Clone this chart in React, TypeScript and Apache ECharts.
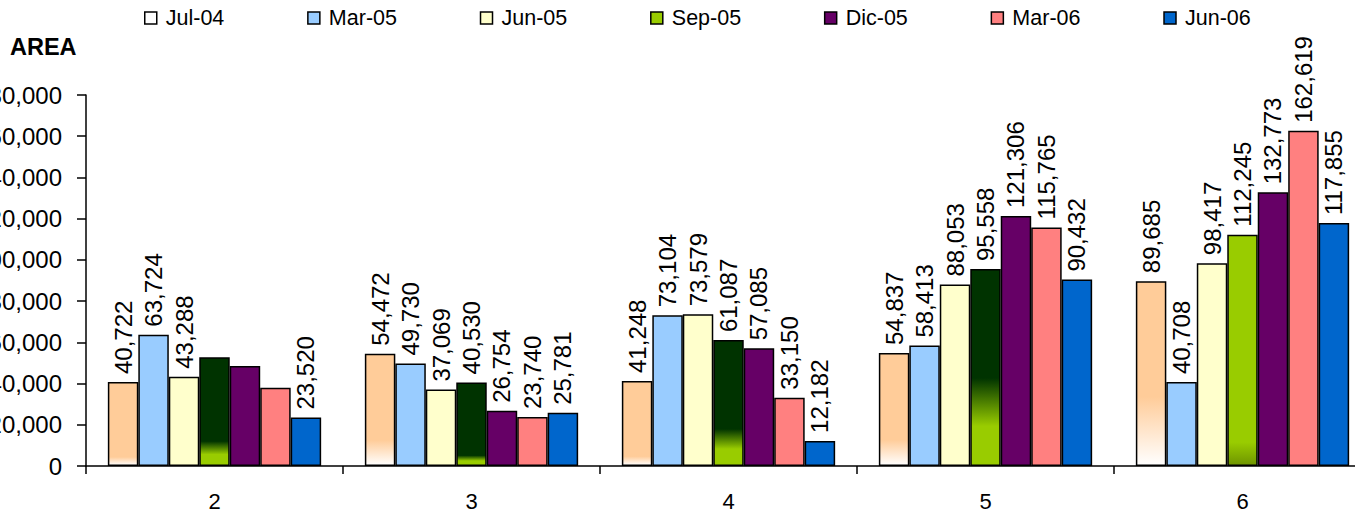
import React, { useEffect, useRef } from "react";
import * as echarts from "echarts";

const categories = ["2", "3", "4", "5", "6"];
const seriesNames = ["Jul-04", "Mar-05", "Jun-05", "Sep-05", "Dic-05", "Mar-06", "Jun-06"];
const jul04 = [40722, 54472, 41248, 54837, 89685];
const mar05 = [63724, 49730, 73104, 58413, 40708];
const jun05 = [43288, 37069, 73579, 88053, 98417];
const sep05 = [52800, 40530, 61087, 95558, 112245];
const dic05 = [48500, 26754, 57085, 121306, 132773];
const mar06 = [38000, 23740, 33150, 115765, 162619];
const jun06 = [23520, 25781, 12182, 90432, 117855];
// labels not shown in the original: [seriesIndex, categoryIndex]
const hiddenLabels: [number, number][] = [[3, 0], [4, 0], [5, 0]];

const seriesValues = [jul04, mar05, jun05, sep05, dic05, mar06, jun06];

const Y_MAX = 180000;
const Y_INTERVAL = 20000;
const GRID_TOP = 95;
const GRID_BOTTOM = 50;
const CHART_H = 516;
const PLOT_H = CHART_H - GRID_TOP - GRID_BOTTOM;

const FONT = "'Liberation Sans', Arial, sans-serif";

const baseColors = ["#FFCC99", "#99CCFF", "#FFFFCC", "#99CC00", "#660066", "#FF8080", "#0066CC"];
const legendColors = ["#FFFFFF", "#99CCFF", "#FFFFCC", "#99CC00", "#660066", "#FF8080", "#0066CC"];

function barHeight(v: number) {
  return (v / Y_MAX) * PLOT_H;
}

function peachGradient(v: number) {
  const h = barHeight(v);
  const fade = Math.max(6, (h - 70) * 0.6);
  const s = Math.max(0, Math.min(1, 1 - fade / h));
  return new echarts.graphic.LinearGradient(0, 0, 0, 1, [
    { offset: 0, color: "#FFCC99" },
    { offset: s, color: "#FFCC99" },
    { offset: 1, color: "#FFFFFF" },
  ]);
}

function greenGradient(v: number) {
  const h = barHeight(v);
  if (v > 100000) {
    return new echarts.graphic.LinearGradient(0, 0, 0, 1, [
      { offset: 0, color: "#99CC00" },
      { offset: 0.9, color: "#99CC00" },
      { offset: 1, color: "#6E9400" },
    ]);
  }
  const L = Math.max(10, (h - 75) * 0.72);
  const s1 = Math.max(0, 1 - L / h);
  const s2 = Math.max(s1, 1 - (0.45 * L) / h);
  return new echarts.graphic.LinearGradient(0, 0, 0, 1, [
    { offset: 0, color: "#003300" },
    { offset: s1, color: "#003300" },
    { offset: s2, color: "#99CC00" },
    { offset: 1, color: "#99CC00" },
  ]);
}

function itemColor(si: number, v: number): any {
  if (si === 0) return peachGradient(v);
  if (si === 3) return greenGradient(v);
  return baseColors[si];
}

export default function App() {
  const ref = useRef<HTMLDivElement>(null);
  useEffect(() => {
    if (!ref.current) return;
    const chart = echarts.init(ref.current, undefined, { renderer: "svg" });
    const series = seriesNames.map((name, si) => ({
      name,
      type: "bar",
      barGap: "0%",
      barCategoryGap: "17%",
      itemStyle: { color: baseColors[si], borderColor: "#000", borderWidth: 1.5 },
      label: {
        show: true,
        position: "top",
        rotate: 90,
        align: "left",
        verticalAlign: "middle",
        distance: 8,
        fontSize: 24,
        fontFamily: FONT,
        color: "#000",
        formatter: (p: any) => Number(p.value).toLocaleString("en-US"),
      },
      data: seriesValues[si].map((v, ci) => {
        const item: any = { value: v, itemStyle: { color: itemColor(si, v) } };
        if (hiddenLabels.some(([s, c]) => s === si && c === ci)) item.label = { show: false };
        return item;
      }),
    }));
    chart.setOption({
      animation: false,
      backgroundColor: "#FFFFFF",
      title: {
        text: "AREA",
        left: 5,
        top: 30,
        textStyle: { fontSize: 23.5, fontWeight: "bold", fontFamily: FONT, color: "#000" },
      },
      legend: {
        left: 139,
        top: 2,
        itemWidth: 12,
        itemHeight: 12,
        itemGap: 82.8,
        icon: "rect",
        textStyle: { fontSize: 21.5, fontFamily: FONT, color: "#000", padding: [0, 0, 0, 4] },
        data: seriesNames.map((n, i) => ({
          name: n,
          itemStyle: { color: legendColors[i], borderColor: "#000", borderWidth: 1.5 },
        })),
      },
      grid: {
        left: 86,
        right: -16,
        top: GRID_TOP,
        bottom: GRID_BOTTOM,
        outerBoundsMode: "none",
        containLabel: false,
      },
      xAxis: {
        type: "category",
        data: categories,
        axisLine: { lineStyle: { color: "#000", width: 1.5 } },
        axisTick: { show: true, length: 8, lineStyle: { color: "#000", width: 1.5 } },
        axisLabel: { fontSize: 22, fontFamily: FONT, color: "#000", margin: 24 },
      },
      yAxis: {
        type: "value",
        min: 0,
        max: Y_MAX,
        interval: Y_INTERVAL,
        axisLine: { show: true, lineStyle: { color: "#000", width: 1.5 } },
        axisTick: { show: true, inside: false, length: 9, lineStyle: { color: "#000", width: 1.5 } },
        splitLine: { show: false },
        axisLabel: {
          fontSize: 24,
          fontFamily: FONT,
          color: "#000",
          margin: 24,
          formatter: (v: number) => v.toLocaleString("en-US"),
        },
      },
      series,
    });
    return () => chart.dispose();
  }, []);
  return (
    <div
      ref={ref}
      style={{ position: "absolute", left: 0, top: 0, width: 1355, height: 516 }}
    />
  );
}
